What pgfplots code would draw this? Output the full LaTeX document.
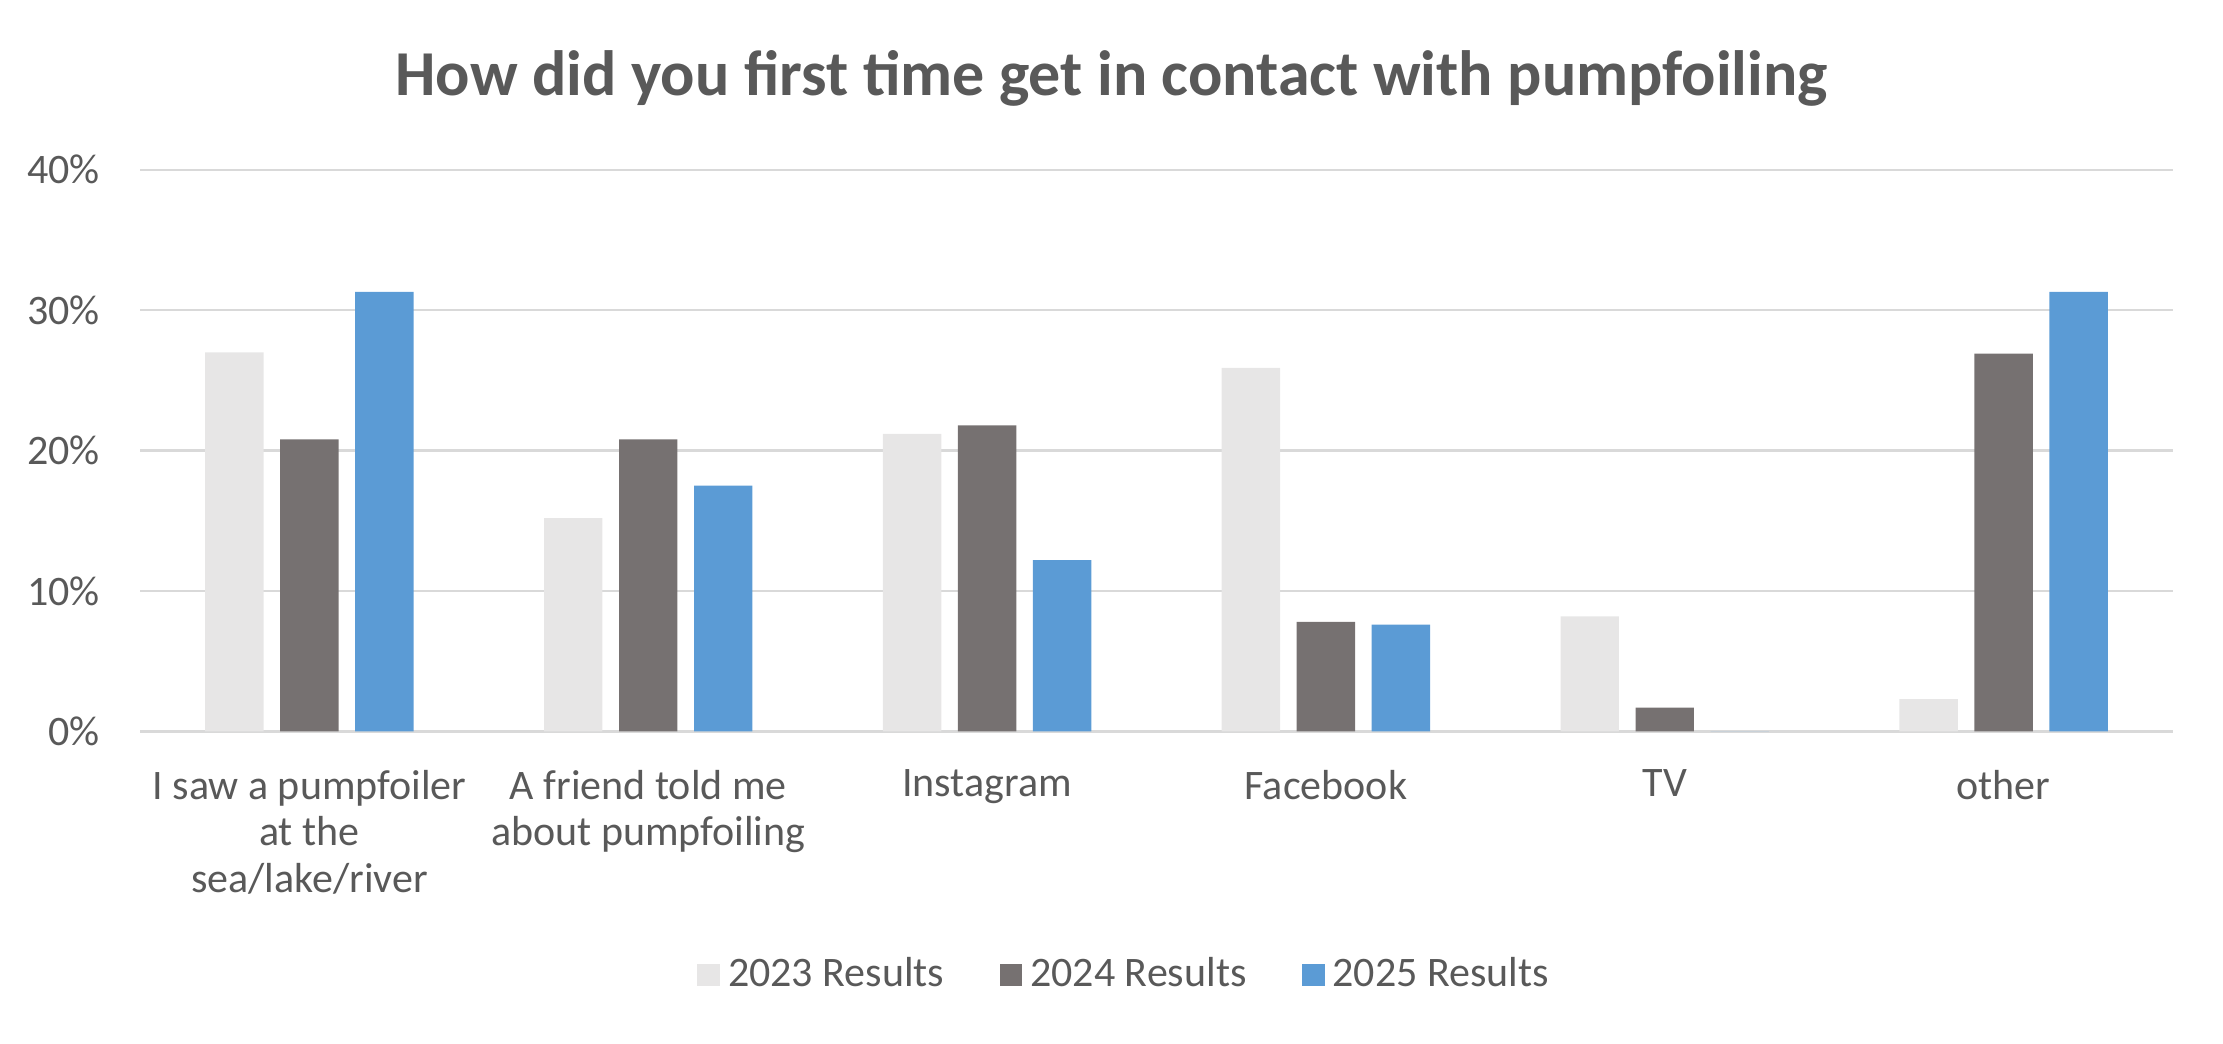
\documentclass[border=0pt]{standalone}
\usepackage{fontspec}
\setmainfont{Carlito}
\usepackage{pgfplots}
\usepackage{pgfplotstable}
\pgfplotsset{compat=1.18}

\definecolor{lightbar}{HTML}{E7E6E6}
\definecolor{darkbar}{HTML}{767171}
\definecolor{bluebar}{HTML}{5B9BD5}
\definecolor{txt}{HTML}{595959}
\definecolor{gridc}{HTML}{D9D9D9}

% share of answers in percent, one row per source
\pgfplotstableread{
x  r23  r24  r25
0  27.0 20.8 31.3
1  15.2 20.8 17.5
2  21.2 21.8 12.2
3  25.9 7.8  7.6
4  8.2  1.7  0
5  2.3  26.9 31.3
}\contact

\pgfplotsset{
  sq/.style={legend image code/.code={%
      \fill[##1] (0pt,-2.85pt) rectangle (5.7pt,2.85pt);}},
}

\begin{document}
\begin{tikzpicture}
\useasboundingbox (0,0) rectangle (555.75pt,260.75pt);
\node[text=txt,font=\fontsize{16}{19}\selectfont\bfseries] at (277.9pt,241.2pt)
  {How did you first time get in contact with pumpfoiling};
\begin{axis}[
  at={(35pt,77.9pt)}, anchor=south west,
  scale only axis, width=508.25pt, height=140.4pt,
  ybar, bar width=14.6pt, ybar=4.15pt,
  xmin=-0.5, xmax=5.5, ymin=0, ymax=40,
  xtick={0,...,5},
  xticklabels={{I saw a pumpfoiler\\at the\\sea/lake/river},
    {A friend told me\\about pumpfoiling},Instagram,Facebook,TV,other},
  ytick={0,10,...,40},
  yticklabels={0\%,10\%,20\%,30\%,40\%},
  /pgf/number format/assume math mode=true,
  major tick length=0pt,
  axis line style={draw=none},
  ymajorgrids, grid style={gridc,line width=0.6pt},
  tick label style={text=txt,font=\fontsize{10.5}{11.7}\selectfont},
  xticklabel style={align=center,yshift=-6.1pt},
  yticklabel style={xshift=-6.5pt},
  legend style={draw=none,fill=none,at={(0.4855,-0.4338)},anchor=center,
    legend columns=-1,font=\fontsize{10.5}{11.7}\selectfont,text=txt,
    /tikz/every even column/.append style={column sep=11.8pt}},
]
\addplot[fill=lightbar,draw=none,sq] table[x=x,y=r23] {\contact};
\addplot[fill=darkbar,draw=none,sq] table[x=x,y=r24] {\contact};
\addplot[fill=bluebar,draw=none,sq] table[x=x,y=r25] {\contact};
\legend{2023 Results,2024 Results,2025 Results}
\end{axis}
\end{tikzpicture}
\end{document}
